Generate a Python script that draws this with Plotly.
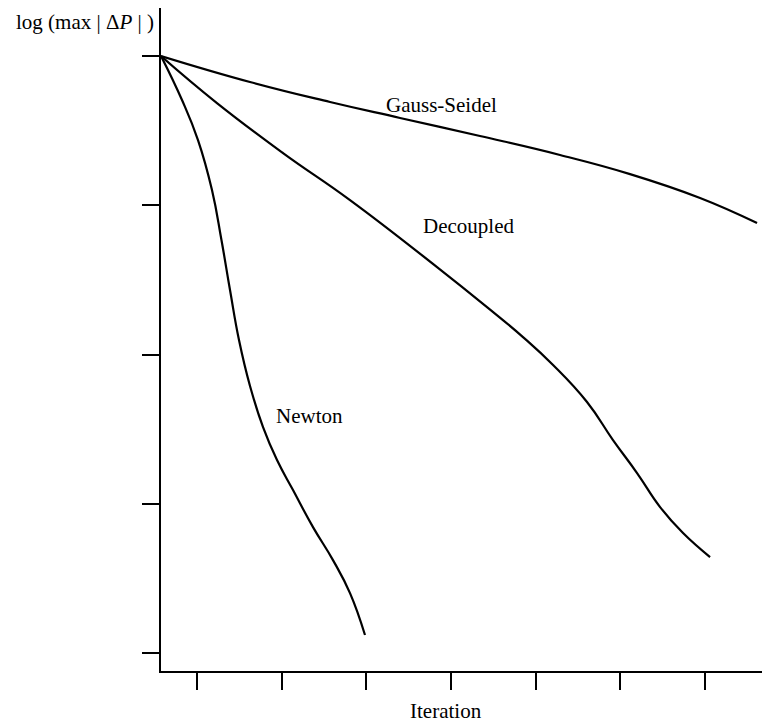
import plotly.graph_objects as go

# Iteration (x) and log(max|dP|) (y) values
gs_x = [0.575, 1.626, 2.571, 3.398, 4.342, 5.287, 6.114, 6.941, 7.614]
gs_y = [0.0, -0.174, -0.308, -0.415, -0.536, -0.663, -0.791, -0.951, -1.119]

dec_x = [0.575, 1.236, 2.016, 2.807, 3.835, 4.425, 4.850, 5.205, 5.606,
         5.913, 6.197, 6.469, 6.740, 7.059]
dec_y = [0.0, -0.315, -0.650, -0.965, -1.414, -1.682, -1.883, -2.070,
         -2.318, -2.573, -2.794, -3.022, -3.196, -3.357]

newton_x = [0.575, 0.823, 1.012, 1.177, 1.289, 1.390, 1.496, 1.626, 1.780,
            1.945, 2.134, 2.370, 2.606, 2.807, 2.984]
newton_y = [0.0, -0.295, -0.563, -0.898, -1.233, -1.568, -1.903, -2.211,
            -2.486, -2.707, -2.908, -3.156, -3.377, -3.598, -3.879]

x_ticks = [1, 2, 3, 4, 5, 6, 7]
y_ticks = [0, -1, -2, -3, -4]

series = [
    ("Gauss-Seidel", gs_x, gs_y, 3.882, -0.328),
    ("Decoupled", dec_x, dec_y, 4.201, -1.139),
    ("Newton", newton_x, newton_y, 2.323, -2.412),
]

FONT = "Liberation Serif, Times New Roman, serif"

fig = go.Figure()
for name, xs, ys, lx, ly in series:
    fig.add_trace(go.Scatter(x=xs, y=ys, mode="lines", name=name,
                             line=dict(color="black", width=2.2, shape="spline", smoothing=1.3),
                             showlegend=False, hoverinfo="skip"))
    fig.add_annotation(x=lx, y=ly, text=name, showarrow=False,
                       font=dict(family=FONT, size=21, color="black"),
                       xanchor="center", yanchor="middle")

fig.add_annotation(xref="paper", yref="paper", x=-0.125, y=1.0,
                   text="log (max | Δ<i>P</i> | )", showarrow=False,
                   font=dict(family=FONT, size=21, color="black"),
                   xanchor="center", yanchor="middle", yshift=-14)
fig.add_annotation(xref="paper", yref="paper", x=0.468, y=0.0,
                   text="Iteration", showarrow=False,
                   font=dict(family=FONT, size=21, color="black"),
                   xanchor="center", yanchor="middle", yshift=-40)

fig.update_xaxes(range=[0.575, 7.767], tickvals=x_ticks, showticklabels=False,
                 ticks="outside", ticklen=17, tickwidth=2, tickcolor="black",
                 showline=True, linecolor="black", linewidth=2,
                 showgrid=False, zeroline=False, mirror=False)
fig.update_yaxes(range=[-4.12, 0.3216], tickvals=y_ticks, showticklabels=False,
                 ticks="outside", ticklen=17, tickwidth=2, tickcolor="black",
                 showline=True, linecolor="black", linewidth=2,
                 showgrid=False, zeroline=False, mirror=False)

# page body has an 8px margin, so the figure is sized to fill the rest
fig.update_layout(width=762, height=715, margin=dict(l=153, r=0, t=0, b=52),
                  plot_bgcolor="white", paper_bgcolor="white",
                  font=dict(family=FONT, color="black"))

fig.write_html("out.html")
